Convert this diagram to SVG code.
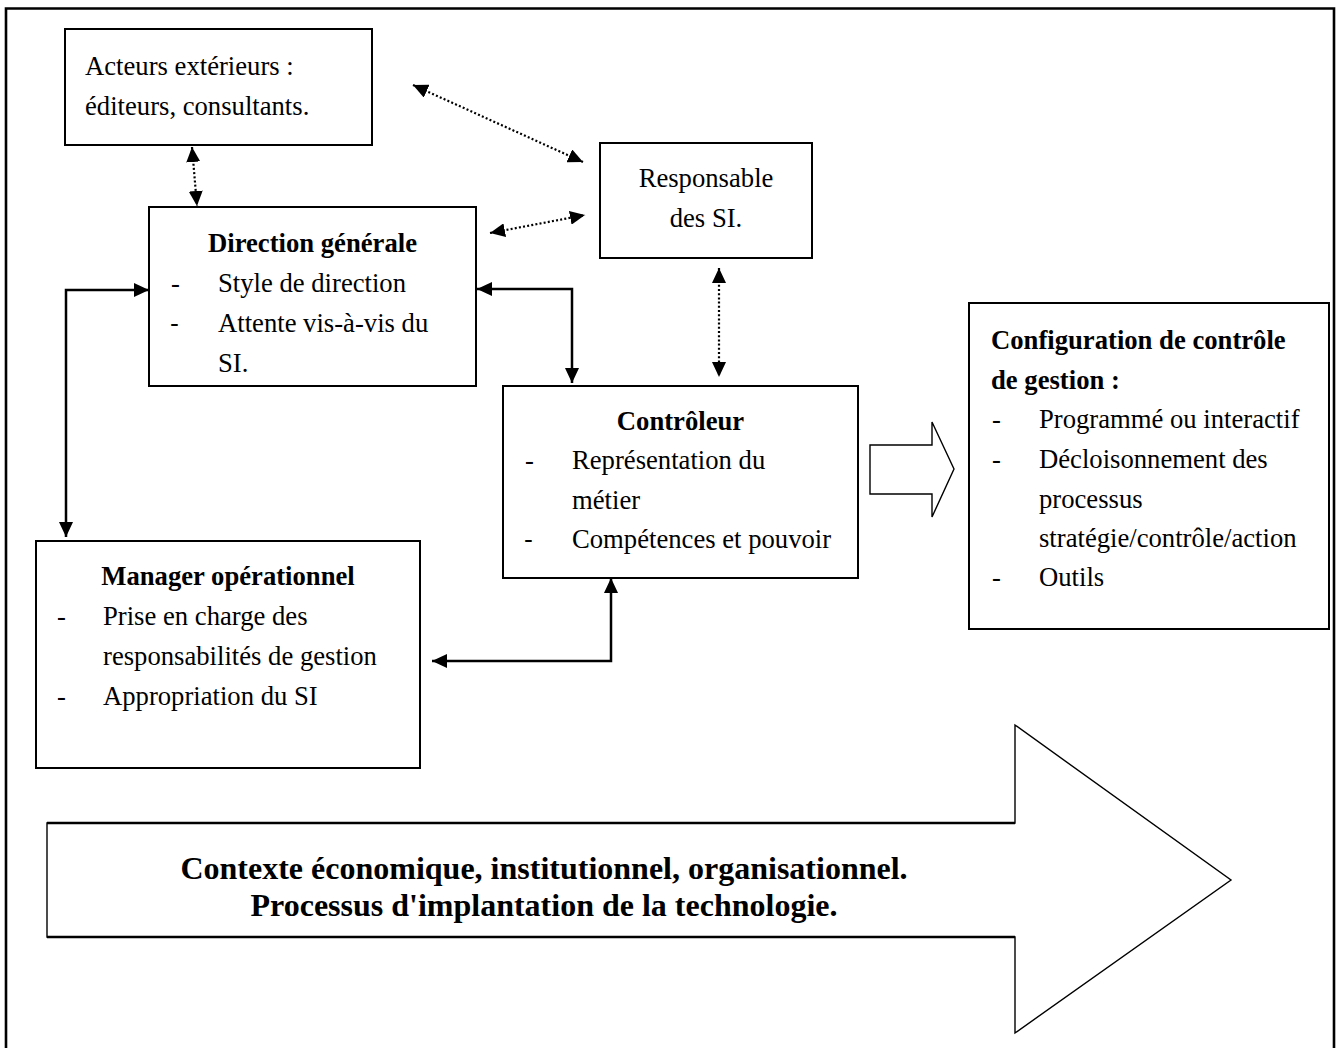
<svg xmlns="http://www.w3.org/2000/svg" width="1338" height="1048" viewBox="0 0 1338 1048">
<style>
text{font-family:"Liberation Serif","Times New Roman",serif;font-size:26.67px;fill:#000}
.b{font-weight:bold}
.c{text-anchor:middle}
.box{fill:#fff;stroke:#000;stroke-width:2}
.dot{fill:none;stroke:#000;stroke-width:2.2;stroke-dasharray:2 2.2;marker-start:url(#ah);marker-end:url(#ah)}
.sol{fill:none;stroke:#000;stroke-width:2.5;marker-start:url(#ah);marker-end:url(#ah)}
.big{font-size:32px;font-weight:bold}
.hollow{fill:#fff;stroke:#000;stroke-width:1.4;stroke-linejoin:miter}
.sd{font-family:"Liberation Sans",Arial,sans-serif}
</style>
<defs>
<marker id="ah" markerUnits="userSpaceOnUse" markerWidth="16" markerHeight="14" viewBox="0 0 16 14" refX="15" refY="7" orient="auto-start-reverse">
<path d="M0,0 L15,7 L0,14 z" fill="#000"/>
</marker>
</defs>
<rect width="1338" height="1048" fill="#fff"/>
<path d="M6,1048 V8.5 H1334 V1048" fill="none" stroke="#000" stroke-width="2.6"/>

<g id="acteurs">
<rect class="box" x="65" y="29" width="307" height="116"/>
<text x="85" y="75">Acteurs extérieurs :</text>
<text x="85" y="115">éditeurs, consultants.</text>
</g>

<g id="direction">
<rect class="box" x="149" y="207" width="327" height="179"/>
<text class="b c" x="312.5" y="252">Direction générale</text>
<text x="171" y="292">-</text>
<text x="218" y="292">Style de direction</text>
<text class="sd" x="170" y="332">-</text>
<text x="218" y="332">Attente vis-à-vis du</text>
<text x="218" y="372">SI.</text>
</g>

<g id="responsable">
<rect class="box" x="600" y="143" width="212" height="115"/>
<text class="c" x="706" y="187">Responsable</text>
<text class="c" x="706" y="227">des SI.</text>
</g>

<g id="controleur">
<rect class="box" x="503" y="386" width="355" height="192"/>
<text class="b c" x="680.5" y="430">Contrôleur</text>
<text x="525" y="469">-</text>
<text x="572" y="469">Représentation du</text>
<text x="572" y="509">métier</text>
<text class="sd" x="524" y="548">-</text>
<text x="572" y="548">Compétences et pouvoir</text>
</g>

<g id="manager">
<rect class="box" x="36" y="541" width="384" height="227"/>
<text class="b c" x="228" y="585">Manager opérationnel</text>
<text x="57" y="625">-</text>
<text x="103" y="625">Prise en charge des</text>
<text x="103" y="665">responsabilités de gestion</text>
<text x="57" y="705">-</text>
<text x="103" y="705">Appropriation du SI</text>
</g>

<g id="configuration">
<rect class="box" x="969" y="303" width="360" height="326"/>
<text class="b" x="991" y="349">Configuration de contrôle</text>
<text class="b" x="991" y="389">de gestion :</text>
<text x="992" y="428">-</text>
<text x="1039" y="428">Programmé ou interactif</text>
<text x="992" y="468">-</text>
<text x="1039" y="468">Décloisonnement des</text>
<text x="1039" y="508">processus</text>
<text x="1039" y="547">stratégie/contrôle/action</text>
<text x="992" y="586">-</text>
<text x="1039" y="586">Outils</text>
</g>

<g id="arrow-small">
<polygon class="hollow" points="870,445 932,445 932,422 954,469 932,517 932,494 870,494"/>
</g>

<g id="contexte">
<polygon class="hollow" points="47,823 1015,823 1015,725 1231,880 1015,1033 1015,937 47,937"/>
<path d="M47,823 H1015 M47,937 H1015" stroke="#000" stroke-width="2.4" fill="none"/>
<text class="big c" x="544" y="879">Contexte économique, institutionnel, organisationnel.</text>
<text class="big c" x="544" y="916">Processus d'implantation de la technologie.</text>
</g>

<g id="connectors">
<path class="dot" d="M192,147 L197,206"/>
<path class="dot" d="M413,85 L583,162"/>
<path class="dot" d="M490,233 L585,215"/>
<path class="dot" d="M719,268 L719,377"/>
<path class="sol" d="M477,289 H572 V383"/>
<path class="sol" d="M149,290 H66 V537"/>
<path class="sol" d="M611,578 V661 H432"/>
</g>
</svg>
